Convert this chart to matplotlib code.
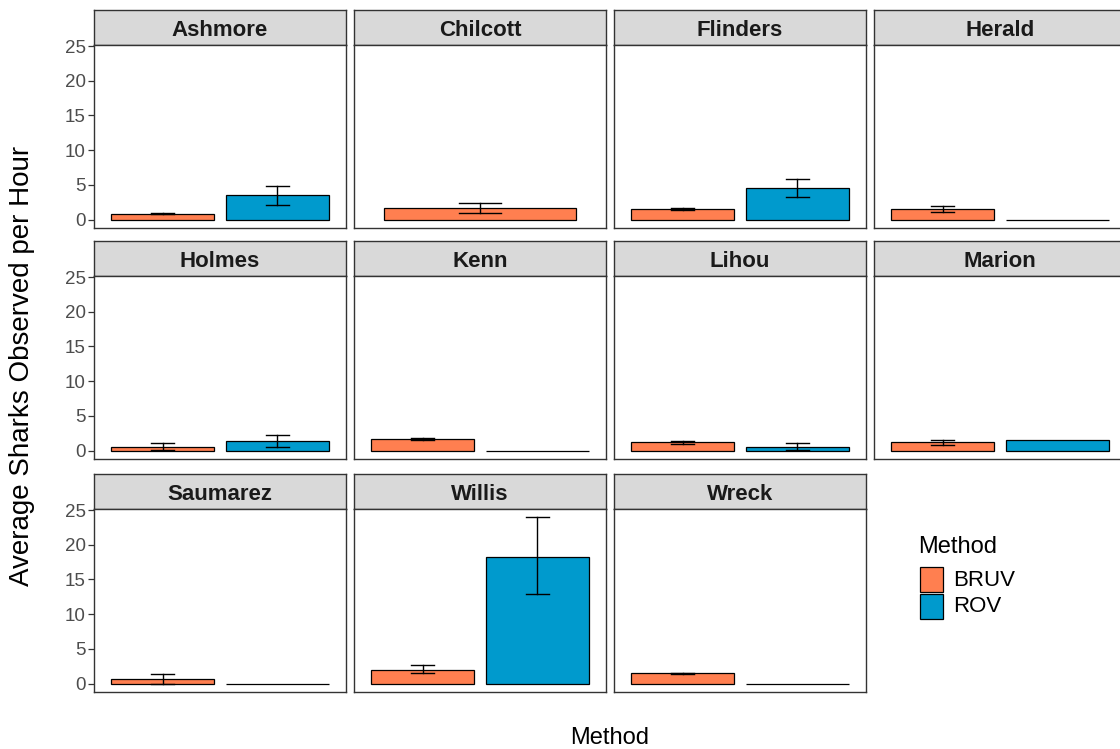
import numpy as np
import matplotlib
matplotlib.use("Agg")
import matplotlib.pyplot as plt
from matplotlib.patches import Rectangle

plt.rcParams["font.family"] = ["Liberation Sans", "DejaVu Sans"]

# ---- data -------------------------------------------------------------
sites = ["Ashmore", "Chilcott", "Flinders", "Herald",
         "Holmes", "Kenn", "Lihou", "Marion",
         "Saumarez", "Willis", "Wreck"]
methods = ["BRUV", "ROV"]

bruv_mean = [0.83, 1.65, 1.50, 1.50, 0.58, 1.68, 1.20, 1.20, 0.68, 1.96, 1.49]
bruv_lo   = [0.80, 0.97, 1.36, 1.12, 0.14, 1.56, 1.00, 0.88, 0.00, 1.48, 1.36]
bruv_hi   = [0.97, 2.38, 1.62, 2.02, 1.06, 1.82, 1.38, 1.52, 1.36, 2.64, 1.60]

nan = np.nan
rov_mean = [3.54, nan, 4.50, 0.0, 1.38, 0.0, 0.52, 1.55, 0.0, 18.30, 0.0]
rov_lo   = [2.18, nan, 3.20, nan, 0.52, nan, 0.14, nan, nan, 12.86, nan]
rov_hi   = [4.90, nan, 5.87, nan, 2.19, nan, 1.05, nan, nan, 23.95, nan]

yticks = [0, 5, 10, 15, 20, 25]

# ---- style ------------------------------------------------------------
fill = {"BRUV": "#FF7F50", "ROV": "#009ACD"}
W, H = 1120, 749
col_x = [94, 354, 614, 874]
panel_w = 252
row_top = [10, 241, 474]
strip_h = 35
panel_h = 183
bar_w = 0.9
single_w = 1.67
cap_frac = 0.22
err_lw = 1.0

fig = plt.figure(figsize=(W / 100, H / 100), dpi=100)
fig.patch.set_facecolor("white")

ymax = np.nanmax(np.r_[bruv_hi, rov_hi])
pad = 0.05 * ymax
ylim = (-pad, ymax + pad)


def fx(px):
    return px / W


def fy(py):
    return 1 - py / H


def draw_bar(ax, x, w, mean, lo, hi, color):
    ax.bar(x, mean, width=w, color=color, edgecolor="black",
           linewidth=0.9, zorder=2)
    if not (np.isnan(lo) or np.isnan(hi)):
        cw = w * cap_frac
        ax.plot([x, x], [lo, hi], color="black", lw=err_lw, zorder=3)
        ax.plot([x - cw / 2, x + cw / 2], [lo, lo], color="black", lw=err_lw, zorder=3)
        ax.plot([x - cw / 2, x + cw / 2], [hi, hi], color="black", lw=err_lw, zorder=3)


for i, site in enumerate(sites):
    r, c = divmod(i, 4)
    x0 = col_x[c]
    top = row_top[r]
    # strip
    sax = fig.add_axes([fx(x0), fy(top + strip_h), fx(panel_w), strip_h / H])
    sax.set_facecolor("#D9D9D9")
    sax.set_xticks([]); sax.set_yticks([])
    for sp in sax.spines.values():
        sp.set_color("#333333"); sp.set_linewidth(1.0)
    sax.text(0.5, 0.42, site, ha="center", va="center", fontsize=16,
             fontweight="bold", color="#1A1A1A", transform=sax.transAxes)

    # panel
    ax = fig.add_axes([fx(x0), fy(top + strip_h + panel_h), fx(panel_w), panel_h / H])
    ax.set_xlim(0.4, 2.6)
    ax.set_ylim(*ylim)
    for sp in ax.spines.values():
        sp.set_color("#333333"); sp.set_linewidth(1.0)
    ax.set_xticks([])
    ax.set_yticks(yticks)
    if c == 0:
        ax.tick_params(axis="y", length=4, width=0.9, color="#333333",
                       labelsize=13.5, labelcolor="#4D4D4D", pad=2)
    else:
        ax.tick_params(axis="y", length=0, labelleft=False)

    if np.isnan(rov_mean[i]):
        draw_bar(ax, 1.5, single_w, bruv_mean[i], bruv_lo[i], bruv_hi[i], fill["BRUV"])
    else:
        draw_bar(ax, 1, bar_w, bruv_mean[i], bruv_lo[i], bruv_hi[i], fill["BRUV"])
        draw_bar(ax, 2, bar_w, rov_mean[i], rov_lo[i], rov_hi[i], fill["ROV"])

# axis titles
fig.text(fx(22), fy(366), "Average Sharks Observed per Hour", rotation=90,
         ha="center", va="center", fontsize=20, color="black")
fig.text(fx(610), fy(738), "Method", ha="center", va="center",
         fontsize=17, color="black")

# legend
fig.text(fx(918), fy(547), "Method", ha="left", va="center", fontsize=17)
for k, m in enumerate(methods):
    ky = 567 + k * 27
    fig.patches.append(Rectangle((fx(920), fy(ky + 25)), fx(23), 25 / H,
                                 transform=fig.transFigure, facecolor=fill[m],
                                 edgecolor="black", linewidth=0.9))
    fig.text(fx(953), fy(ky + 13), m, ha="left", va="center", fontsize=16)

fig.savefig("out.png", dpi=100, facecolor="white")
